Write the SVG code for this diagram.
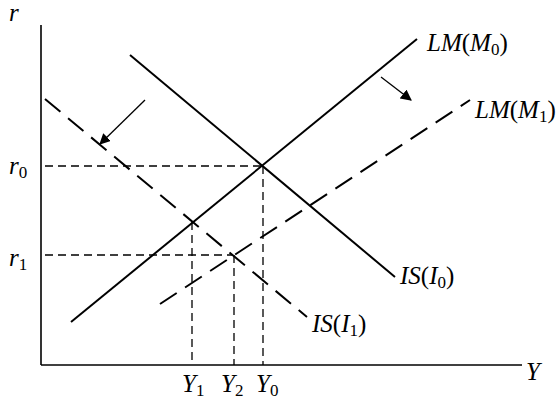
<svg xmlns="http://www.w3.org/2000/svg" width="560" height="403" viewBox="0 0 560 403">
<style>
.ax{stroke:#000;stroke-width:1.6;fill:none}
.s{stroke:#000;stroke-width:2;fill:none}
.d{stroke:#000;stroke-width:2;fill:none;stroke-dasharray:20,10}
.g{stroke:#000;stroke-width:1.3;fill:none;stroke-dasharray:8,5}
.ar{stroke:#000;stroke-width:1.3;fill:none}
text{font-family:"Liberation Serif","Times New Roman",serif;font-size:25px;font-style:italic;fill:#000}
.sub{font-style:normal;font-size:17px}
.up{font-style:normal}
</style>
<defs>
<marker id="ah" viewBox="0 0 10 10" refX="9" refY="5" markerWidth="11" markerHeight="11" markerUnits="userSpaceOnUse" orient="auto">
<path d="M0,0 L10,5 L0,10 z" fill="#000"/>
</marker>
</defs>
<g id="axes">
<line class="ax" x1="41" y1="25" x2="41" y2="365"/>
<line class="ax" x1="41" y1="365" x2="522" y2="365"/>
</g>
<g id="connectors">
<line class="g" x1="45" y1="166" x2="263" y2="166"/>
<line class="g" x1="45" y1="255" x2="233" y2="255"/>
<line class="g" x1="192" y1="222" x2="192" y2="365"/>
<line class="g" x1="234" y1="255" x2="234" y2="365"/>
<line class="g" x1="263" y1="166" x2="263" y2="365"/>
<line class="ar" x1="145" y1="100" x2="100" y2="144" marker-end="url(#ah)"/>
<line class="ar" x1="381" y1="77" x2="411" y2="100" marker-end="url(#ah)"/>
</g>
<g id="IS0"><line class="s" x1="130" y1="55" x2="395" y2="277"/></g>
<g id="LM0"><line class="s" x1="71" y1="322" x2="417" y2="39"/></g>
<g id="IS1"><line class="d" x1="45" y1="99" x2="307" y2="317"/></g>
<g id="LM1"><line class="d" x1="160" y1="304" x2="470" y2="100"/></g>
<g id="labels">
<text x="9" y="21">r</text>
<text x="9" y="174">r<tspan class="sub" dy="4">0</tspan></text>
<text x="9" y="266">r<tspan class="sub" dy="4">1</tspan></text>
<text x="182" y="392">Y<tspan class="sub" dy="4">1</tspan></text>
<text x="221" y="392">Y<tspan class="sub" dy="4">2</tspan></text>
<text x="256" y="392">Y<tspan class="sub" dy="4">0</tspan></text>
<text x="526" y="380">Y</text>
<text x="427" y="51">LM<tspan class="up">(</tspan>M<tspan class="sub" dy="4">0</tspan><tspan class="up" dy="-4">)</tspan></text>
<text x="475" y="118">LM<tspan class="up">(</tspan>M<tspan class="sub" dy="4">1</tspan><tspan class="up" dy="-4">)</tspan></text>
<text x="400" y="284">IS<tspan class="up">(</tspan>I<tspan class="sub" dy="4">0</tspan><tspan class="up" dy="-4">)</tspan></text>
<text x="312" y="332">IS<tspan class="up">(</tspan>I<tspan class="sub" dy="4">1</tspan><tspan class="up" dy="-4">)</tspan></text>
</g>
</svg>
